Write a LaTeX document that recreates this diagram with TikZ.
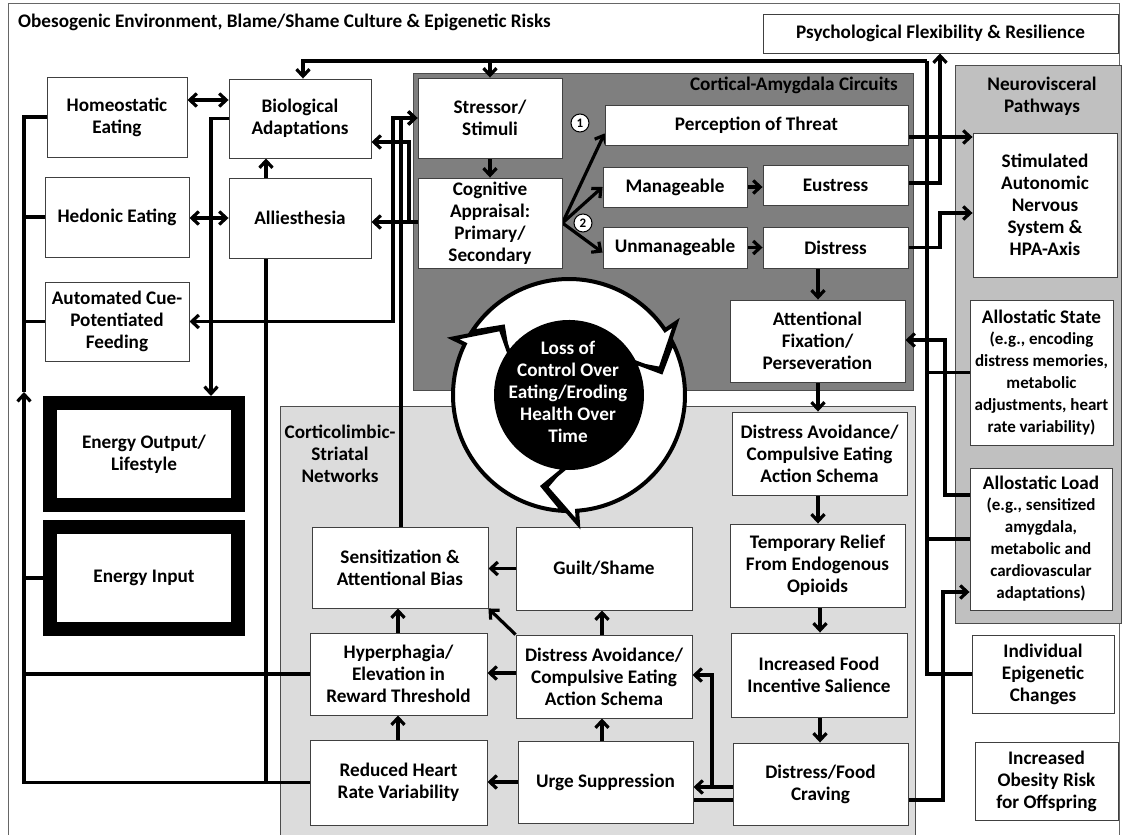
\documentclass[tikz,border=0pt]{standalone}
\usepackage{fontspec}
\setmainfont{Carlito}
\usetikzlibrary{arrows.meta,calc}
\definecolor{darkgr}{HTML}{7F7F7F}
\definecolor{midgr}{HTML}{C0C0C0}
\definecolor{lightgr}{HTML}{DCDCDC}
\pgfdeclarelayer{back}
\pgfdeclarelayer{lines}
\pgfsetlayers{back,lines,main}
\newcommand\bxat[6]{\node[bx,minimum width=#4pt,minimum height=#5pt] (#1) at (#2,#3) {#6};}
\newcommand\smallfs{\fontsize{17}{20}\selectfont}
\begin{document}
\begin{tikzpicture}[x=1pt,y=-1pt,
  every node/.style={font=\fontsize{19.2}{22}\selectfont\bfseries},
  bx/.style={draw=black!75, fill=white, line width=0.9pt, align=center, inner sep=0pt},
  thickbx/.style={draw=black, fill=white, line width=14pt, align=center, inner sep=0pt},
  conn/.style={line width=3.2pt, line join=miter},
  >={Straight Barb[length=7pt,width=13pt]},
  lbl/.style={align=center, inner sep=0pt},
  numc/.style={circle, draw=black, fill=white, line width=1pt, inner sep=0pt, minimum size=18pt, font=\fontsize{13}{13}\selectfont\bfseries}
]
\useasboundingbox (0,0) rectangle (1122,835);
% backgrounds
\begin{pgfonlayer}{back}
\draw[black!60, line width=0.8pt] (8,3) rectangle (1119,860);
\filldraw[fill=darkgr, draw=black!70, line width=0.8pt] (413,73) rectangle (913,390);
\filldraw[fill=lightgr, draw=black!70, line width=0.8pt] (280,406) rectangle (915,860);
\filldraw[fill=midgr, draw=black!70, line width=0.8pt] (955,65) rectangle (1121,623);
\end{pgfonlayer}

% boxes
\bxat{psych}{940.5}{33.5}{355}{39}{Psychological Flexibility \& Resilience}
\bxat{homeo}{117}{117}{140}{80}{Homeostatic\\Eating}
\bxat{hedon}{117}{217}{144}{80}{Hedonic Eating}
\bxat{bio}{300}{118.5}{142}{79}{Biological\\Adaptations}
\bxat{allies}{300}{218}{142}{80}{Alliesthesia}
\bxat{auto}{117}{321.5}{144}{79}{Automated Cue-\\Potentiated\\Feeding}
\node[thickbx,minimum width=188pt,minimum height=102pt] (eout) at (144,454) {Energy Output/\\Lifestyle};
\node[thickbx,minimum width=188pt,minimum height=102pt] (ein) at (144,578) {Energy Input};
\bxat{stress}{490}{118}{144}{80}{Stressor/\\Stimuli}
\bxat{cogn}{490}{223}{144}{90}{Cognitive\\Appraisal:\\Primary/\\Secondary}
\bxat{percep}{756.5}{125}{303}{40}{Perception of Threat}
\bxat{manage}{675}{187}{144}{40}{Manageable}
\bxat{eust}{835.5}{185}{145}{40}{Eustress}
\bxat{unman}{675}{247.5}{144}{41}{Unmanageable}
\bxat{distr}{835.5}{247.5}{145}{41}{Distress}
\bxat{attn}{817.5}{341}{175}{82}{Attentional\\Fixation/\\Perseveration}
\bxat{da1}{819.5}{453.5}{175}{83}{Distress Avoidance/\\Compulsive Eating\\Action Schema}
\bxat{temp}{817.5}{565.5}{175}{83}{Temporary Relief\\From Endogenous\\Opioids}
\bxat{incr}{819}{675}{176}{84}{Increased Food\\Incentive Salience}
\bxat{crav}{820.5}{784}{175}{82}{Distress/Food\\Craving}
\bxat{guilt}{604}{568.5}{176}{83}{Guilt/Shame}
\bxat{da2}{604}{676.5}{176}{83}{Distress Avoidance/\\Compulsive Eating\\Action Schema}
\bxat{urge}{605.5}{782}{175}{82}{Urge Suppression}
\bxat{sens}{400}{567.5}{176}{81}{Sensitization \&\\Attentional Bias}
\bxat{hyper}{398.5}{674}{177}{82}{Hyperphagia/\\Elevation in\\Reward Threshold}
\bxat{rhrv}{398.5}{782.5}{177}{85}{Reduced Heart\\Rate Variability}
\bxat{ans}{1045}{205}{144}{144}{Stimulated\\Autonomic\\Nervous\\System \&\\HPA-Axis}
\bxat{astate}{1041.5}{372.5}{143}{145}{Allostatic State\\[-1pt]\smallfs (e.g., encoding\\\smallfs distress memories,\\\smallfs metabolic\\\smallfs adjustments, heart\\\smallfs rate variability)}
\bxat{aload}{1041}{539}{142}{142}{Allostatic Load\\[-1pt]\smallfs (e.g., sensitized\\\smallfs amygdala,\\\smallfs metabolic and\\\smallfs cardiovascular\\\smallfs adaptations)}
\bxat{indiv}{1043}{674}{142}{78}{Individual\\Epigenetic\\Changes}
\bxat{offsp}{1046.5}{781}{143}{78}{Increased\\Obesity Risk\\for Offspring}

% connectors
\coordinate (bl) at (24,392);
\coordinate (tb) at (927,61);
\begin{pgfonlayer}{lines}
\begin{scope}[conn]
\draw[->] (rhrv.west) -| (bl);
\draw (bl) |- (homeo.west);
\draw (hyper.west) -- (hyper.west -| bl);
\draw (ein.west) -- (ein.west -| bl);
\draw (auto.west) -- (auto.west -| bl);
\draw (hedon.west) -- (hedon.west -| bl);
\draw[->] (bio.west) -| (eout.north -| 211,0);
\draw[<->] (homeo.east |- 0,100) -- (bio.west |- 0,100);
\draw[<->] (hedon.east |- 0,218) -- (allies.west |- 0,218);
\draw[->] (allies.north -| 266,0) -- (bio.south -| 266,0);
\draw (allies.south -| 266,0) |- (rhrv.west);
\draw[->] (tb) -| (bio.north -| 303,0);
\draw[->] (stress.north |- tb) -- (stress.north);
\draw (tb) |- (indiv.west);
\draw (astate.west) -- (astate.west -| tb);
\draw (aload.west) -- (aload.west -| tb);
\draw[->] (stress.south) -- (cogn.north);
\draw[->] (cogn.east) -- ([yshift=12pt]percep.south west);
\draw[->] (cogn.east) -- (manage.west);
\draw[->] (cogn.east) -- ([yshift=-5pt]unman.west);
\draw[->] (manage.east) -- (manage.east -| eust.west);
\draw[->] (unman.east) -- (distr.west);
\draw[->] (percep.east |- 0,137) -- (ans.west |- 0,137);
\draw[->] (eust.east |- 0,183) -| (psych.south -| 940,0);
\draw[->] (distr.east) -| (940,230) |- (ans.west |- 0,213);
\draw[->] (distr.south -| 818,0) -- (attn.north -| 818,0);
\draw[->] (aload.west |- 0,495) -| (945,420) |- (attn.east |- 0,340);
\draw[->] (attn.south -| 818,0) -- (da1.north -| 818,0);
\draw[->] (da1.south -| 818,0) -- (temp.north -| 818,0);
\draw[->] (temp.south -| 820,0) -- (incr.north -| 820,0);
\draw[->] (urge.east |- 0,800) -| (943,700) |- (aload.west |- 0,592);
\draw[->] (incr.south -| 820,0) -- (crav.north -| 820,0);
\draw[->] (crav.west |- 0,787) -- (urge.east |- 0,787);
\draw[->] (crav.west |- 0,787) -| (712,720) |- (da2.east |- 0,675);
\draw[->] (urge.north -| 602,0) -- (da2.south -| 602,0);
\draw[->] (da2.north -| 602,0) -- (guilt.south -| 602,0);
\draw[->] (da2.west |- 0,673) -- (hyper.east |- 0,673);
\draw[->] (da2.north west) -- (sens.south east);
\draw[->] (guilt.west) -- (sens.east |- guilt.west);
\draw[->] (urge.west) -- (rhrv.east |- urge.west);
\draw[->] (rhrv.north -| 398,0) -- (hyper.south -| 398,0);
\draw[->] (hyper.north -| 398,0) -- (sens.south -| 398,0);
\draw[->] (sens.north -| 401,0) |- (stress.west);
\draw[<->] (auto.east) -| (393,200) |- (stress.west);
\draw[->] (cogn.west |- 0,222) -- (allies.east |- 0,222);
\draw[->] (409,222) |- (bio.east |- 0,142);
\end{scope}
\end{pgfonlayer}

% numbered circles
\node[numc] (n1) at (580,123) {1};
\node[numc] (n2) at (583,223) {2};

% cycle graphic
\begin{scope}[shift={(569,395)}]
 \fill[black] (0,0) circle[radius=73];
 \foreach \h in {-34,86,206} {
   \pgfmathsetmacro\ta{\h-113}
   \pgfmathsetmacro\tp{\h+18}
   \pgfmathsetmacro\ib{\h+9}
   \pgfmathsetmacro\nt{\h-100}
   \draw[line width=4pt, fill=white, line join=miter, miter limit=4]
     (\ta:116) arc[start angle=\ta, end angle=\h, radius=116]
     -- (\h:129) -- (\tp:95) -- (\ib:73)
     arc[start angle=\ib, end angle=\ta, radius=73]
     -- (\nt:95) -- cycle;
 }
 \node[lbl, text=white] (loss) at (-1,-3) {Loss of\\Control Over\\Eating/Eroding\\Health Over\\Time};
\end{scope}

% labels
\node[lbl, anchor=west] (title) at (18,22) {Obesogenic Environment, Blame/Shame Culture \& Epigenetic Risks};
\node[lbl, anchor=east] (cac) at (898,85) {Cortical-Amygdala Circuits};
\node[lbl] (nvp) at (1042,96) {Neurovisceral\\Pathways};
\node[lbl] (css) at (340,454) {Corticolimbic-\\Striatal\\Networks};
\end{tikzpicture}
\end{document}
